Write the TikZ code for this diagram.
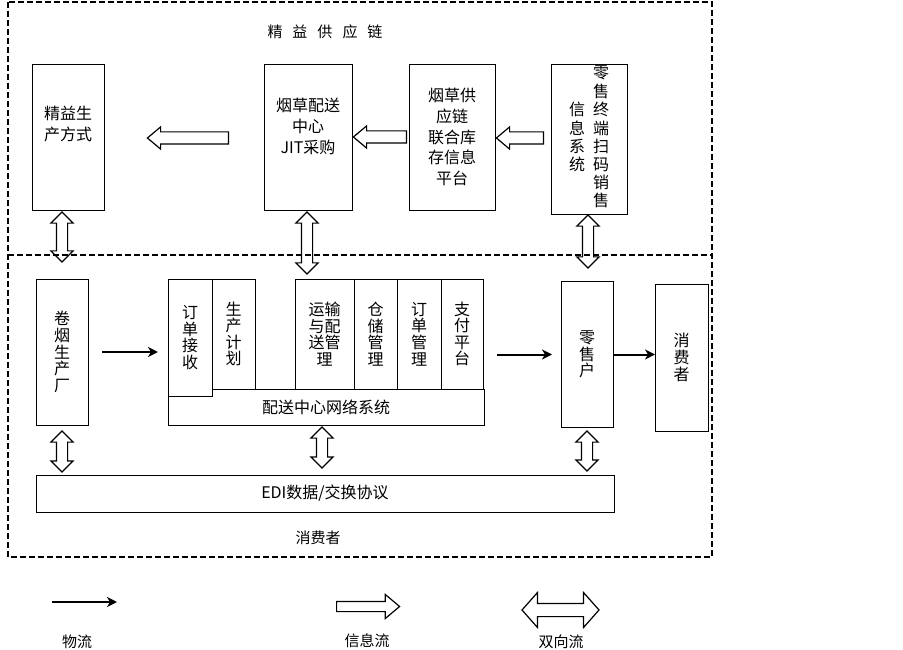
\documentclass[tikz,border=0pt]{standalone}
\usepackage{fontspec}
\setmainfont{Noto Sans CJK SC}
\usetikzlibrary{calc, positioning, arrows.meta, shapes.arrows}
\newcommand{\vcol}[1]{\begin{tabular}[c]{@{}c@{}}#1\end{tabular}}

\begin{document}
\begin{tikzpicture}[
    x=1pt, y=-1pt,
    box/.style={draw, line width=0.9pt, inner sep=0pt, outer sep=0pt, align=center,
      font=\fontsize{16}{16.6}\selectfont},
    wide/.style={box, font=\fontsize{16}{20.8}\selectfont},
    note/.style={font=\fontsize{15}{16}\selectfont},
    frame/.style={line width=2pt, dash pattern=on 6pt off 3pt},
    flow/.style={line width=2pt, -{Stealth[length=10pt, width=10pt, inset=3pt]}},
    infoarrow/.style={single arrow, draw, line width=1.2pt, inner sep=5.5pt,
      minimum width=0pt, single arrow head extend=5pt, single arrow tip angle=80,
      anchor=tail},
    bothway/.style={double arrow, draw, line width=1.2pt, inner sep=5pt,
      minimum width=0pt, double arrow head extend=5.5pt, double arrow tip angle=90,
      shape border rotate=90},
  ]
  \useasboundingbox (0,0) rectangle (903,650);
  \draw[frame] (8,2) rectangle (712,557);
  \draw[frame] (8,255) -- (712,255);

  \node[note] (title) at (325,32) {精\hspace{10pt}益\hspace{10pt}供\hspace{10pt}应\hspace{10pt}链};
  \node[wide, minimum width=72pt, minimum height=146pt] (lean) at (68,137) {精益生\\产方式\\[6pt]};
  \node[wide, minimum width=88pt, minimum height=146pt] (jit) at (308,137) {烟草配送\\中心\\JIT采购\\[2pt]};
  \node[wide, minimum width=86pt, minimum height=146pt] (stock) at (452,137) {烟草供\\应链\\联合库\\存信息\\平台};
  \node[box, minimum width=76pt, minimum height=150pt] (pos) at (589,139) {\vcol{信\\息\\系\\统}\hspace{8pt}\vcol{零\\售\\终\\端\\扫\\码\\销\\售}};

  \node[infoarrow, shape border rotate=180, minimum height=81pt] (ia1) at (229,138) {};
  \node[infoarrow, shape border rotate=180, minimum height=53pt] (ia2) at (407,137) {};
  \node[infoarrow, shape border rotate=180, minimum height=47pt] (ia3) at (544,138) {};

  \node[box, minimum width=52pt, minimum height=146pt] (factory) at (62,352) {卷\\烟\\生\\产\\厂};
  \node[box, minimum width=316pt, minimum height=36pt] (network) at (326,407) {配送中心网络系统};
  \node[box, fill=white, minimum width=44pt, minimum height=117pt] (order) at (190,337.5) {订\\单\\接\\收};
  \node[box, minimum width=43pt, minimum height=110pt] (plan) at (233.5,334) {生\\产\\计\\划};
  \node[box, minimum width=59pt, minimum height=110pt] (transport) at (324.5,334) {运输\\与配\\送管\\理};
  \node[box, minimum width=43pt, minimum height=110pt, right=0pt of transport] (storage) {仓\\储\\管\\理};
  \node[box, minimum width=44pt, minimum height=110pt, right=0pt of storage] (ordermgmt) {订\\单\\管\\理};
  \node[box, minimum width=42pt, minimum height=110pt, right=0pt of ordermgmt] (payment) {支\\付\\平\\台};
  \node[box, minimum width=52pt, minimum height=146pt] (retail) at (587,354.5) {零\\售\\户};
  \node[box, minimum width=53pt, minimum height=147pt] (consumer) at (681.5,357.5) {消\\费\\者};
  \node[box, minimum width=578pt, minimum height=37pt] (edi) at (325,493.5) {EDI数据/交换协议};
  \node[note] (zone) at (318,538) {消费者};

  \node[bothway, minimum height=50pt] (ba1) at (62,237) {};
  \node[bothway, minimum height=62pt] (ba2) at (307,243) {};
  \node[bothway, minimum height=53pt] (ba3) at (588,241.5) {};
  \node[bothway, minimum height=41pt] (ba4) at (62,451.5) {};
  \node[bothway, minimum height=41pt] (ba5) at (322,447.5) {};
  \node[bothway, minimum height=40pt] (ba6) at (587,451) {};

  \draw[flow, shorten <=14pt, shorten >=10pt] (factory.east) -- (factory.east -| order.west);
  \draw[flow, shorten <=14pt, shorten >=9pt] (retail.west -| payment.east) -- (retail.west);
  \draw[flow] (retail.east) -- (retail.east -| consumer.west);

  \coordinate (phys0) at (52,602);
  \coordinate (phys1) at (117,602);
  \draw[flow] (phys0) -- (phys1);
  \node[infoarrow, inner sep=4.5pt, single arrow head extend=7pt, minimum height=63pt] (legInfo) at (336,606.5) {};
  \node[bothway, shape border rotate=0, inner sep=6pt, double arrow head extend=11pt, double arrow tip angle=97, minimum height=77pt] (legBoth) at (560.5,610) {};
  \node[note] (physlbl) at (77,642) {物流};
  \node[note] (infolbl) at (367,641) {信息流};
  \node[note] (bothlbl) at (561,642) {双向流};
\end{tikzpicture}
\end{document}
